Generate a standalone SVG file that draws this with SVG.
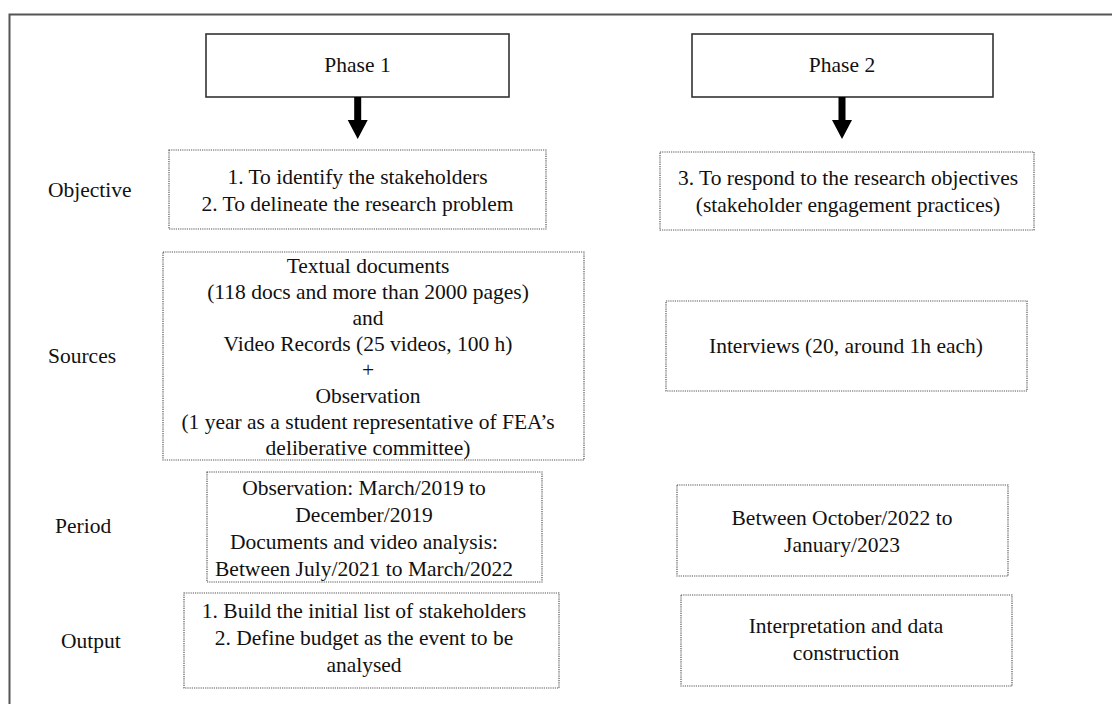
<svg xmlns="http://www.w3.org/2000/svg" width="1112" height="704" viewBox="0 0 1112 704">
<style>
  .t { font-family: "Liberation Serif", "Times New Roman", serif; font-size: 21.5px; fill: #111; text-anchor: middle; }
  .lbl { font-family: "Liberation Serif", "Times New Roman", serif; font-size: 21.5px; fill: #111; text-anchor: start; }
  .phase { fill: #fff; stroke: #333; stroke-width: 1.6; }
  .dot { fill: #fff; stroke: #555; stroke-width: 1.2; stroke-dasharray: 1.2 1; }
  .arrow { fill: #000; }
</style>
<rect x="0" y="0" width="1112" height="704" fill="#fff"/>
<rect id="frame" x="9.5" y="14.5" width="1120" height="710" fill="none" stroke="#555" stroke-width="2"/>

<g id="labels">
  <text class="lbl" x="48" y="197">Objective</text>
  <text class="lbl" x="48" y="363">Sources</text>
  <text class="lbl" x="55" y="533">Period</text>
  <text class="lbl" x="61" y="648">Output</text>
</g>

<g id="phase1">
  <rect class="phase" x="206" y="34" width="303" height="63"/>
  <text class="t" x="357.5" y="72">Phase 1</text>
</g>
<g id="phase2">
  <rect class="phase" x="692" y="34" width="301" height="63"/>
  <text class="t" x="842" y="72">Phase 2</text>
</g>

<g id="connectors">
  <path class="arrow" d="M354.2,97 L361.2,97 L361.2,120 L367.7,120 L357.7,139 L347.7,120 L354.2,120 Z"/>
  <path class="arrow" d="M838.5,97 L845.5,97 L845.5,120 L852,120 L842,139 L832,120 L838.5,120 Z"/>
</g>

<g id="objective1">
  <rect class="dot" x="169" y="150" width="377" height="79"/>
  <text class="t" x="357.5" y="184">1. To identify the stakeholders</text>
  <text class="t" x="357.5" y="211">2. To delineate the research problem</text>
</g>
<g id="objective2">
  <rect class="dot" x="660" y="152" width="374" height="78"/>
  <text class="t" x="848" y="185">3. To respond to the research objectives</text>
  <text class="t" x="848" y="212">(stakeholder engagement practices)</text>
</g>

<g id="sources1">
  <rect class="dot" x="163" y="252" width="421" height="208"/>
  <text class="t" x="368" y="273">Textual documents</text>
  <text class="t" x="368" y="299">(118 docs and more than 2000 pages)</text>
  <text class="t" x="368" y="325">and</text>
  <text class="t" x="368" y="351">Video Records (25 videos, 100 h)</text>
  <text class="t" x="368" y="377">+</text>
  <text class="t" x="368" y="403">Observation</text>
  <text class="t" x="368" y="429">(1 year as a student representative of FEA’s</text>
  <text class="t" x="368" y="455">deliberative committee)</text>
</g>
<g id="sources2">
  <rect class="dot" x="666" y="301" width="361" height="90"/>
  <text class="t" x="846" y="353">Interviews (20, around 1h each)</text>
</g>

<g id="period1">
  <rect class="dot" x="207" y="472" width="335" height="110"/>
  <text class="t" x="364" y="495">Observation: March/2019 to</text>
  <text class="t" x="364" y="522">December/2019</text>
  <text class="t" x="364" y="549">Documents and video analysis:</text>
  <text class="t" x="364" y="576">Between July/2021 to March/2022</text>
</g>
<g id="period2">
  <rect class="dot" x="677" y="485" width="331" height="91"/>
  <text class="t" x="842" y="525">Between October/2022 to</text>
  <text class="t" x="842" y="552">January/2023</text>
</g>

<g id="output1">
  <rect class="dot" x="184" y="593" width="375" height="95"/>
  <text class="t" x="364" y="618">1. Build the initial list of stakeholders</text>
  <text class="t" x="364" y="645">2. Define budget as the event to be</text>
  <text class="t" x="364" y="672">analysed</text>
</g>
<g id="output2">
  <rect class="dot" x="681" y="595" width="331" height="91"/>
  <text class="t" x="846" y="633">Interpretation and data</text>
  <text class="t" x="846" y="660">construction</text>
</g>
</svg>
